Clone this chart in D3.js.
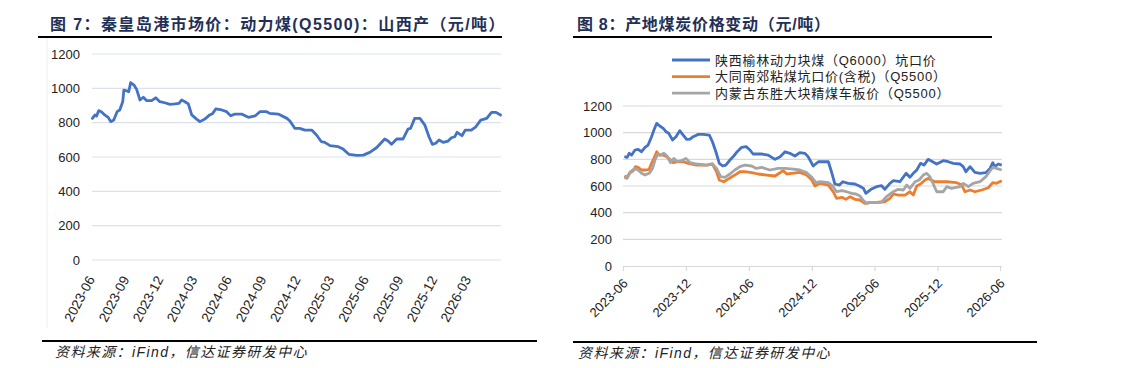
<!DOCTYPE html>
<html><head><meta charset="utf-8">
<script src="https://cdn.jsdelivr.net/npm/d3@7"></script>
<style>
html,body{margin:0;padding:0;background:#fff;}
svg{display:block;}
.num{font-family:"Liberation Sans",Arial,sans-serif;}
.cjk{font-family:"Liberation Sans","Noto Sans CJK SC",sans-serif;}
</style></head>
<body>
<svg id="c" width="1137" height="368"></svg>
<script>
// ---------- Chart 7 data ----------
const leftTitle = "图 7：秦皇岛港市场价：动力煤(Q5500)：山西产（元/吨）";
const rightTitle = "图 8：产地煤炭价格变动（元/吨）";
const sourceText = "资料来源：iFind，信达证券研发中心";
const yTicks = [0, 200, 400, 600, 800, 1000, 1200];
const yTickLabels = ["0", "200", "400", "600", "800", "1000", "1200"];
const leftTickLabels = ["2023-06","2023-09","2023-12","2024-03","2024-06","2024-09","2024-12","2025-03","2025-06","2025-09","2025-12","2026-03"];
const rightTickLabels = ["2023-06","2023-12","2024-06","2024-12","2025-06","2025-12","2026-06"];

const qhdDates = ["2023-06-02","2023-06-09","2023-06-13","2023-06-19","2023-06-26","2023-07-05","2023-07-14","2023-07-21","2023-07-29","2023-08-07","2023-08-14","2023-08-22","2023-08-25","2023-09-01","2023-09-07","2023-09-12","2023-09-21","2023-09-28","2023-10-07","2023-10-16","2023-10-25","2023-11-07","2023-11-18","2023-11-29","2023-12-12","2023-12-26","2024-01-08","2024-01-19","2024-01-26","2024-02-04","2024-02-13","2024-02-22","2024-03-06","2024-03-15","2024-03-28","2024-04-10","2024-04-18","2024-04-26","2024-05-12","2024-05-25","2024-06-05","2024-06-16","2024-07-04","2024-07-22","2024-08-09","2024-08-22","2024-09-09","2024-09-17","2024-10-10","2024-11-02","2024-11-10","2024-11-23","2024-12-06","2024-12-20","2025-01-07","2025-01-20","2025-02-02","2025-02-11","2025-02-25","2025-03-19","2025-04-01","2025-04-17","2025-05-07","2025-05-25","2025-06-11","2025-06-29","2025-07-21","2025-07-30","2025-08-08","2025-08-22","2025-09-08","2025-09-21","2025-09-28","2025-10-09","2025-10-23","2025-11-05","2025-11-16","2025-11-25","2025-12-04","2025-12-13","2025-12-24","2026-01-06","2026-01-15","2026-01-24","2026-01-30","2026-02-12","2026-02-21","2026-03-09","2026-03-21","2026-04-03","2026-04-19","2026-05-02","2026-05-14","2026-05-26"];
const qhdValues = [825,845,838,870,864,845,831,806,815,864,874,922,990,986,980,1033,1019,994,932,948,928,928,945,922,916,907,909,912,932,922,909,845,821,806,821,845,854,880,874,864,840,850,850,831,839,864,864,854,850,825,810,767,767,757,757,728,689,685,666,660,646,615,610,611,627,654,705,693,674,705,705,763,767,825,825,786,718,674,680,699,685,693,712,718,744,724,757,757,776,815,825,860,860,845];

// ---------- Chart 8 data ----------
const seriesNames = ["陕西榆林动力块煤（Q6000）坑口价","大同南郊粘煤坑口价(含税)（Q5500）","内蒙古东胜大块精煤车板价（Q5500）"];
const seriesColors = ["#4472C4","#ED7D31","#A5A5A5"];

const yulinDates = ["2023-06-05","2023-06-13","2023-06-19","2023-06-26","2023-07-06","2023-07-15","2023-07-25","2023-08-04","2023-08-13","2023-08-23","2023-08-30","2023-09-07","2023-09-16","2023-09-26","2023-10-04","2023-10-12","2023-10-23","2023-11-02","2023-11-13","2023-11-23","2023-12-03","2023-12-13","2023-12-22","2024-01-06","2024-01-20","2024-02-07","2024-02-16","2024-02-26","2024-03-07","2024-03-17","2024-03-26","2024-04-07","2024-04-18","2024-04-28","2024-05-11","2024-05-24","2024-06-04","2024-06-13","2024-07-08","2024-07-27","2024-08-16","2024-08-31","2024-09-14","2024-09-28","2024-10-13","2024-10-27","2024-11-11","2024-11-20","2024-12-05","2024-12-20","2025-01-18","2025-01-27","2025-02-06","2025-02-19","2025-03-01","2025-03-17","2025-04-05","2025-04-18","2025-04-30","2025-05-07","2025-05-22","2025-06-07","2025-06-22","2025-07-01","2025-07-16","2025-07-26","2025-08-14","2025-09-01","2025-09-12","2025-09-22","2025-10-02","2025-10-13","2025-10-23","2025-11-04","2025-11-17","2025-11-29","2025-12-18","2026-01-02","2026-01-16","2026-02-05","2026-02-14","2026-02-22","2026-03-06","2026-03-20","2026-04-04","2026-04-21","2026-05-03","2026-05-11","2026-05-17","2026-05-27","2026-06-06"];
const yulinValues = [820,815,845,832,870,875,857,890,907,970,1020,1070,1050,1032,1007,995,945,970,1015,982,950,952,970,987,987,982,932,857,770,750,757,795,825,857,890,895,870,840,840,832,800,820,857,845,825,850,845,820,750,782,782,707,615,607,632,620,615,600,582,545,575,595,602,575,620,640,632,695,665,695,720,770,757,800,782,765,790,782,770,765,745,707,745,702,695,700,732,775,745,765,757];

const datongDates = ["2023-06-05","2023-06-12","2023-06-21","2023-07-01","2023-07-07","2023-07-15","2023-07-25","2023-08-07","2023-08-16","2023-08-23","2023-08-30","2023-09-07","2023-09-14","2023-09-26","2023-10-06","2023-10-15","2023-10-25","2023-11-08","2023-11-23","2023-12-08","2024-01-01","2024-01-30","2024-02-16","2024-02-28","2024-03-07","2024-03-20","2024-04-05","2024-04-21","2024-05-06","2024-05-20","2024-06-09","2024-06-28","2024-07-23","2024-08-16","2024-08-25","2024-09-09","2024-09-19","2024-10-03","2024-10-27","2024-11-16","2024-12-01","2024-12-10","2024-12-25","2025-01-18","2025-02-01","2025-02-11","2025-02-26","2025-03-10","2025-03-22","2025-04-05","2025-04-20","2025-05-04","2025-05-19","2025-06-07","2025-07-01","2025-07-16","2025-07-26","2025-08-09","2025-08-29","2025-09-12","2025-09-22","2025-10-02","2025-10-13","2025-10-26","2025-11-04","2025-11-24","2025-12-28","2026-01-26","2026-02-10","2026-02-19","2026-03-06","2026-03-20","2026-04-09","2026-04-28","2026-05-11","2026-05-22","2026-06-06"];
const datongValues = [675,665,700,715,745,740,720,720,725,770,807,857,832,832,820,800,775,782,782,770,757,757,765,707,645,632,657,682,707,707,700,690,682,675,690,715,690,695,702,682,645,600,620,607,557,507,515,500,520,500,495,470,475,477,482,507,540,532,532,557,532,600,615,645,657,632,632,625,607,557,570,557,570,587,625,620,640];

const dongshengDates = ["2023-06-05","2023-06-13","2023-06-23","2023-07-06","2023-07-15","2023-07-25","2023-08-04","2023-08-16","2023-08-26","2023-09-02","2023-09-10","2023-09-18","2023-09-28","2023-10-07","2023-10-17","2023-10-27","2023-11-06","2023-11-18","2023-12-01","2023-12-13","2024-01-01","2024-01-30","2024-02-16","2024-02-28","2024-03-11","2024-03-23","2024-04-07","2024-04-21","2024-05-06","2024-05-20","2024-06-09","2024-06-23","2024-07-08","2024-08-01","2024-08-25","2024-09-14","2024-10-08","2024-10-27","2024-11-16","2024-12-01","2024-12-13","2024-12-25","2025-01-18","2025-02-01","2025-02-11","2025-02-26","2025-03-12","2025-03-27","2025-04-08","2025-04-20","2025-04-30","2025-05-09","2025-05-19","2025-06-07","2025-06-22","2025-07-06","2025-07-26","2025-08-09","2025-08-24","2025-09-03","2025-09-12","2025-09-27","2025-10-09","2025-10-21","2025-10-31","2025-11-09","2025-11-19","2025-11-29","2025-12-18","2025-12-28","2026-01-11","2026-02-05","2026-02-14","2026-03-01","2026-03-15","2026-04-04","2026-04-21","2026-05-05","2026-05-12","2026-05-22","2026-06-06"];
const dongshengValues = [665,657,707,732,720,695,682,695,732,795,840,832,845,825,775,807,782,790,807,775,765,757,765,732,670,665,690,720,745,757,750,732,740,720,732,732,727,720,700,665,625,632,625,595,557,565,557,545,540,525,490,470,477,475,480,520,557,575,570,607,582,632,645,682,695,670,615,557,557,595,582,595,620,595,620,632,670,720,740,732,720];

// ---------- drawing ----------
const svg = d3.select("#c");
const parse = d3.timeParse("%Y-%m-%d");
const parseM = d3.timeParse("%Y-%m");
const start = parse("2023-06-01"), end = parse("2026-06-01");
const yFmt = v => yTickLabels[yTicks.indexOf(v)];

// titles
function title(x, y, txt, x1, x2, ly, ls){
  svg.append("text").attr("x", x).attr("y", y).attr("class","cjk")
    .attr("font-size", 16).attr("font-weight", "bold").attr("letter-spacing", ls)
    .attr("fill", "#1F3057").text(txt);
  svg.append("line").attr("x1", x1).attr("x2", x2).attr("y1", ly).attr("y2", ly)
    .attr("stroke", "#000").attr("stroke-width", 2.2);
}
title(50, 30, leftTitle, 38, 502, 37, 1.4);
title(577, 30, rightTitle, 573, 992, 37, 0.7);

// bottom rules and sources
function source(x, y, x1, x2, ly){
  svg.append("line").attr("x1", x1).attr("x2", x2).attr("y1", ly).attr("y2", ly)
    .attr("stroke", "#000").attr("stroke-width", 2);
  svg.append("text").attr("x", x).attr("y", y).attr("class","cjk")
    .attr("font-size", 14).attr("letter-spacing", 1.4).attr("font-style","italic")
    .attr("fill","#222").text(sourceText);
}
source(55, 357, 42, 537, 341);
source(578, 358, 573, 1037, 342);

// faint frame line on left chart
svg.append("line").attr("x1", 47).attr("x2", 47).attr("y1", 38).attr("y2", 328)
  .attr("stroke", "#eeeeee").attr("stroke-width", 1);

// ---------- Left chart ----------
{
  const x = d3.scaleTime().domain([start, end]).range([92, 502.8]);
  const y = d3.scaleLinear().domain([0, 1200]).range([260, 54]);
  const g = svg.append("g");
  const gx0 = 92, gx1 = 501;
  g.selectAll(".grid").data(yTicks).join("line")
    .attr("x1", gx0).attr("x2", gx1).attr("y1", d => y(d)).attr("y2", d => y(d))
    .attr("stroke", "#DCE1EA").attr("stroke-width", 1.2);
  const ya = d3.axisLeft(y).tickValues(yTicks).tickFormat(yFmt).tickSize(0).tickPadding(0);
  const yg = g.append("g").attr("transform", `translate(${gx0-12},0)`).call(ya);
  yg.select(".domain").remove();
  yg.selectAll("text").attr("class","num").attr("font-size", 13).attr("fill", "#222");
  // x labels
  const tickDates = leftTickLabels.map(parseM);
  g.selectAll(".xl").data(tickDates).join("text")
    .attr("class","num").attr("font-size", 13.5).attr("fill","#222")
    .attr("text-anchor","end")
    .attr("transform", d => `translate(${x(d)-1},${277}) rotate(-62)`)
    .attr("dy","0.35em")
    .text((d,i) => leftTickLabels[i]);
  const data = qhdDates.map((d,i) => [parse(d), qhdValues[i]]);
  g.append("path").datum(data)
    .attr("d", d3.line().x(d => x(d[0])).y(d => y(d[1])))
    .attr("fill","none").attr("stroke", "#4472C4").attr("stroke-width", 2.8)
    .attr("stroke-linejoin","round").attr("stroke-linecap","round");
}

// ---------- Right chart ----------
{
  const x = d3.scaleTime().domain([start, end]).range([623, 1000]);
  const y = d3.scaleLinear().domain([0, 1200]).range([266, 106]);
  const g = svg.append("g");
  const gx0 = 623, gx1 = 1002;
  g.selectAll(".grid").data(yTicks.filter(d => d > 0)).join("line")
    .attr("x1", gx0).attr("x2", gx1).attr("y1", d => y(d)).attr("y2", d => y(d))
    .attr("stroke", "#D9D9D9").attr("stroke-width", 1.2);
  const ya = d3.axisLeft(y).tickValues(yTicks).tickFormat(yFmt).tickSize(0).tickPadding(0);
  const yg = g.append("g").attr("transform", `translate(${gx0-11},0)`).call(ya);
  yg.select(".domain").remove();
  yg.selectAll("text").attr("class","num").attr("font-size", 13).attr("fill", "#222");
  // x axis
  const tickDates = rightTickLabels.map(parseM);
  const xa = d3.axisBottom(x).tickValues(tickDates).tickSize(5).tickFormat((d,i) => rightTickLabels[i]);
  const xg = g.append("g").attr("transform", `translate(0,${y(0)})`).call(xa);
  xg.select(".domain").attr("stroke", "#D9D9D9").attr("stroke-width", 1.2)
    .attr("d", `M${gx0},0.5H${gx1}`);
  xg.selectAll(".tick line").attr("stroke", "#D9D9D9").attr("stroke-width", 1.2);
  xg.selectAll(".tick text").attr("class","num").attr("font-size", 13).attr("fill","#222")
    .attr("text-anchor","end").attr("y", 0).attr("dy","0.35em")
    .attr("transform","translate(2,15) rotate(-45)");
  const sets = [[yulinDates, yulinValues],[datongDates, datongValues],[dongshengDates, dongshengValues]];
  const line = d3.line().x(d => x(d[0])).y(d => y(d[1]));
  sets.forEach((s, k) => {
    const data = s[0].map((d,i) => [parse(d), s[1][i]]);
    g.append("path").datum(data).attr("d", line)
      .attr("fill","none").attr("stroke", seriesColors[k]).attr("stroke-width", 2.8)
      .attr("stroke-linejoin","round");
  });
  // legend
  const lg = g.append("g");
  seriesNames.forEach((n, k) => {
    const ly = 60 + k * 16.6;
    lg.append("line").attr("x1", 672).attr("x2", 710).attr("y1", ly).attr("y2", ly)
      .attr("stroke", seriesColors[k]).attr("stroke-width", 2.8);
    lg.append("text").attr("x", 715).attr("y", ly).attr("dy","0.36em").attr("class","cjk")
      .attr("font-size", 13).attr("letter-spacing", 0.75).attr("fill","#222").text(n);
  });
}
</script>
</body></html>
